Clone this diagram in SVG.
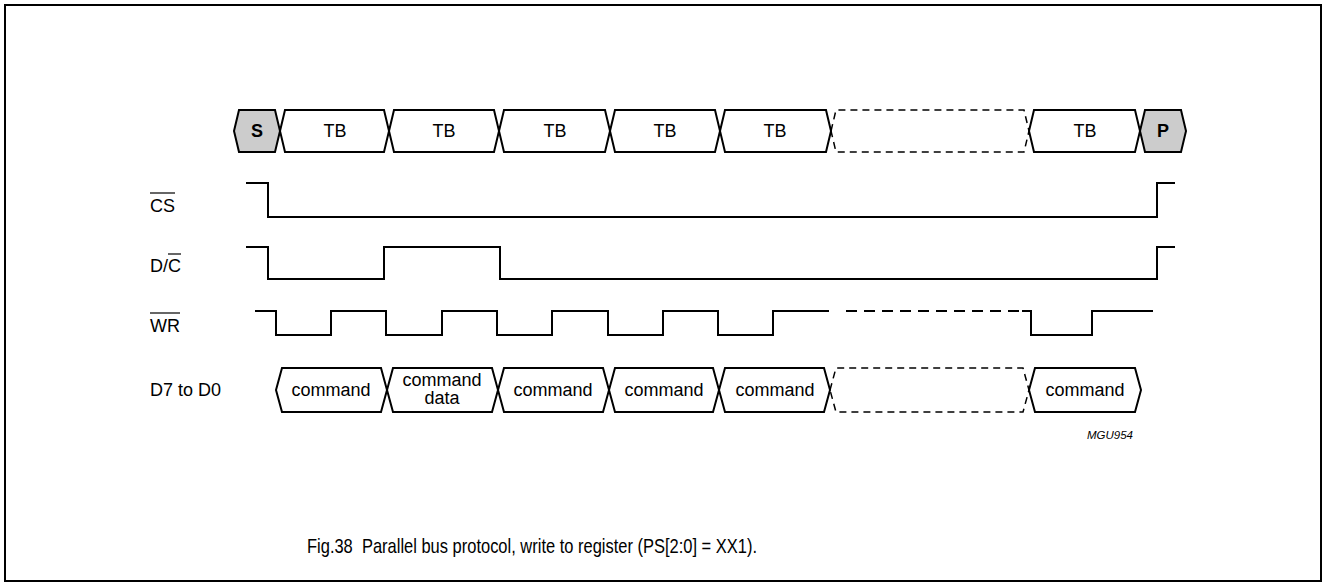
<svg xmlns="http://www.w3.org/2000/svg" width="1327" height="587" viewBox="0 0 1327 587">
<style>
.sig{fill:none;stroke:#000;stroke-width:2;stroke-linejoin:miter}
.box{fill:#fff;stroke:#000;stroke-width:2;stroke-linejoin:miter}
.gray{fill:#cccccc;stroke:#000;stroke-width:2}
.dash{fill:none;stroke:#000;stroke-width:1.5;stroke-dasharray:7 5}
.wdash{fill:none;stroke:#000;stroke-width:2;stroke-dasharray:11 7}
text{font-family:"Liberation Sans",Arial,sans-serif;font-size:18px;fill:#000}
.c{text-anchor:middle}
.b{font-weight:bold}
</style>
<rect x="5" y="5" width="1316" height="576" fill="#fff" stroke="#000" stroke-width="2"/>
<g id="bus-row">
<g id="S"><polygon class="gray" points="234,131 239,110 275,110 280,131 275,152 239,152"/><text class="c b" x="257" y="137">S</text></g>
<g id="TB1"><polygon class="box" points="280,131 285,110 384,110 389,131 384,152 285,152"/><text class="c" x="335" y="137">TB</text></g>
<g id="TB2"><polygon class="box" points="389,131 394,110 494,110 499,131 494,152 394,152"/><text class="c" x="444" y="137">TB</text></g>
<g id="TB3"><polygon class="box" points="499,131 504,110 605,110 610,131 605,152 504,152"/><text class="c" x="555" y="137">TB</text></g>
<g id="TB4"><polygon class="box" points="610,131 615,110 715,110 720,131 715,152 615,152"/><text class="c" x="665" y="137">TB</text></g>
<g id="TB5"><polygon class="box" points="720,131 725,110 826,110 831,131 826,152 725,152"/><text class="c" x="775" y="137">TB</text></g>
<g id="TBdots"><polygon class="dash" points="831,131 836,110 1024,110 1029,131 1024,152 836,152"/></g>
<g id="TB6"><polygon class="box" points="1029,131 1034,110 1135,110 1140,131 1135,152 1034,152"/><text class="c" x="1085" y="137">TB</text></g>
<g id="P"><polygon class="gray" points="1140,131 1145,110 1181,110 1186,131 1181,152 1145,152"/><text class="c b" x="1163" y="137">P</text></g>
</g>
<g id="labels">
<text x="150" y="212">CS</text><line x1="150" y1="193" x2="175" y2="193" stroke="#000" stroke-width="1.2"/>
<text x="150" y="272">D/C</text><line x1="168" y1="254" x2="181" y2="254" stroke="#000" stroke-width="1.2"/>
<text x="150" y="332">WR</text><line x1="150" y1="313" x2="180" y2="313" stroke="#000" stroke-width="1.2"/>
<text x="150" y="396">D7 to D0</text>
</g>
<g id="connectors">
<path id="CS-wave" class="sig" d="M246,183 H268 V217 H1157 V183 H1175"/>
<path id="DC-wave" class="sig" d="M246,247 H268 V279 H384 V247 H500 V279 H1157 V247 H1175"/>
<path id="WR-wave" class="sig" d="M255,311 H276 V335 H331 V311 H386 V335 H442 V311 H497 V335 H552 V311 H608 V335 H663 V311 H718 V335 H773 V311 H829"/>
<path id="WR-gap" class="wdash" d="M846,311 H1022"/>
<path id="WR-end" class="sig" d="M1022,311 H1031 V335 H1092 V311 H1153"/>
</g>
<g id="data-row">
<g id="D1"><polygon class="box" points="276,390 282,368 381,368 387,390 381,412 282,412"/><text class="c" x="331" y="396">command</text></g>
<g id="D2"><polygon class="box" points="387,390 393,368 492,368 498,390 492,412 393,412"/><text class="c" x="442" y="386">command</text><text class="c" x="442" y="404">data</text></g>
<g id="D3"><polygon class="box" points="498,390 504,368 603,368 609,390 603,412 504,412"/><text class="c" x="553" y="396">command</text></g>
<g id="D4"><polygon class="box" points="609,390 615,368 713,368 719,390 713,412 615,412"/><text class="c" x="664" y="396">command</text></g>
<g id="D5"><polygon class="box" points="719,390 725,368 824,368 830,390 824,412 725,412"/><text class="c" x="775" y="396">command</text></g>
<g id="Ddots"><polygon class="dash" points="830,390 836,368 1023,368 1029,390 1023,412 836,412"/></g>
<g id="D6"><polygon class="box" points="1029,390 1035,368 1135,368 1141,390 1135,412 1035,412"/><text class="c" x="1085" y="396">command</text></g>
</g>
<text x="1110" y="439" class="c" style="font-size:11.5px;font-style:italic">MGU954</text>
<text x="307" y="553" style="font-size:21px;white-space:pre" xml:space="preserve" textLength="450" lengthAdjust="spacingAndGlyphs">Fig.38  Parallel bus protocol, write to register (PS[2:0] = XX1).</text>
</svg>
